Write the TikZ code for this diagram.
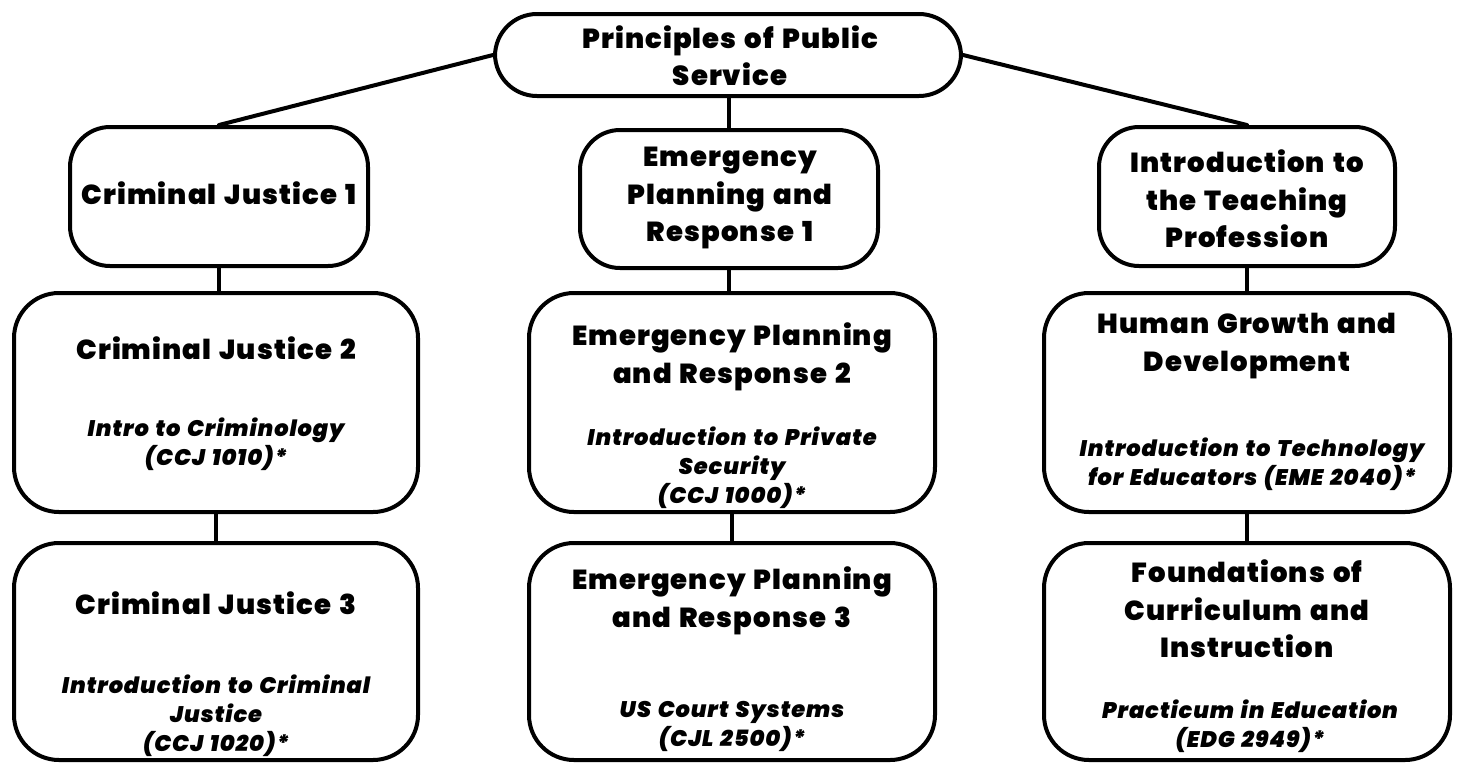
\documentclass[tikz,border=0pt]{standalone}
\usepackage{fontspec}
\setmainfont{Poppins}[BoldFont={Poppins Black}, BoldItalicFont={Poppins Black Italic}, LetterSpace=4, WordSpace=1.4]
\begin{document}
\begin{tikzpicture}[x=1pt,y=-1pt,
  box/.style={draw=black, line width=4pt, rounded corners=#1, inner sep=0pt, fill=white},
  box/.default=42pt,
  ttl/.style={align=center, font=\bfseries\fontsize{27.5}{37.5}\selectfont, inner sep=0pt},
  crs/.style={align=center, font=\bfseries\itshape\fontsize{22.5}{29}\selectfont, inner sep=0pt},
  conn/.style={line width=4pt, line cap=round}]
\useasboundingbox (0,0) rectangle (1461,764);
% boxes
\node[box=42pt, minimum width=466pt, minimum height=82pt] (top) at (728,55) {};
\node[box=40pt, minimum width=298pt, minimum height=139pt] (cj1) at (219,196.5) {};
\node[box=40pt, minimum width=298pt, minimum height=138pt] (epr1) at (729,199) {};
\node[box=40pt, minimum width=296pt, minimum height=139pt] (itp) at (1247,196.5) {};
\node[box=45pt, minimum width=404pt, minimum height=219pt] (cj2) at (216,402.5) {};
\node[box=45pt, minimum width=406pt, minimum height=219pt] (epr2) at (732,402.5) {};
\node[box=45pt, minimum width=406pt, minimum height=219pt] (hgd) at (1247,402.5) {};
\node[box=45pt, minimum width=404pt, minimum height=217pt] (cj3) at (216,651.5) {};
\node[box=45pt, minimum width=406pt, minimum height=217pt] (epr3) at (732,651.5) {};
\node[box=45pt, minimum width=406pt, minimum height=217pt] (fci) at (1247,651.5) {};
% connectors
\draw[conn] (top.west) -- (cj1.north);
\draw[conn] (top.east) -- (itp.north);
\draw[conn] (top.south -| epr1.north) -- (epr1.north);
\draw[conn] (cj1.south) -- (cj1.south |- cj2.north);
\draw[conn] (epr1.south) -- (epr1.south |- epr2.north);
\draw[conn] (itp.south) -- (itp.south |- hgd.north);
\draw[conn] (cj2.south) -- (cj3.north);
\draw[conn] (epr2.south) -- (epr3.north);
\draw[conn] (hgd.south) -- (fci.north);
% texts
\node[ttl] (topt) at (730,55.5) {Principles of Public\\Service};
\node[ttl] (cj1t) at (219,193) {Criminal Justice 1};
\node[ttl] (epr1t) at (730,198) {Emergency\\Planning and\\Response 1};
\node[ttl] (itpt) at (1247,199) {Introduction to\\the Teaching\\Profession};
\node[ttl] (cj2t) at (216,348) {Criminal Justice 2};
\node[crs] (cj2c) at (216,444) {Intro to Criminology\\(CCJ 1010)*};
\node[ttl] (epr2t) at (732,357) {Emergency Planning\\and Response 2};
\node[crs] (epr2c) at (732,468) {Introduction to Private\\Security\\(CCJ 1000)*};
\node[ttl] (hgdt) at (1247,346) {Human Growth and\\Development};
\node[crs] (hgdc) at (1252,464) {Introduction to Technology\\for Educators (EME 2040)*};
\node[ttl] (cj3t) at (216,603) {Criminal Justice 3};
\node[crs] (cj3c) at (216,716) {Introduction to Criminal\\Justice\\(CCJ 1020)*};
\node[ttl] (epr3t) at (732,601) {Emergency Planning\\and Response 3};
\node[crs] (epr3c) at (732,726) {US Court Systems\\(CJL 2500)*};
\node[ttl] (fcit) at (1247,609) {Foundations of\\Curriculum and\\Instruction};
\node[crs] (fcic) at (1250,726) {Practicum in Education\\(EDG 2949)*};
\end{tikzpicture}
\end{document}
